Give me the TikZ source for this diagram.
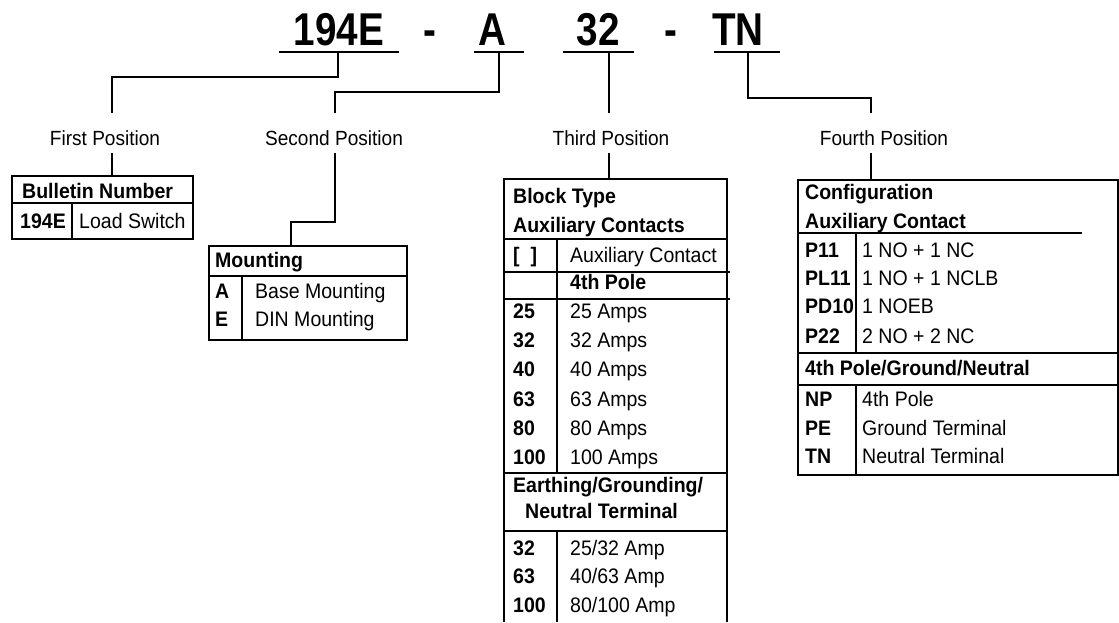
\documentclass[tikz,border=0pt]{standalone}
\usepackage{fontspec}
\setmainfont[FakeStretch=0.93]{Liberation Sans}
\newfontfamily\codefont[FakeStretch=0.84]{Liberation Sans}

\begin{document}
\begin{tikzpicture}[x=1pt,y=-1pt,
  code/.style={font=\codefont\bfseries\fontsize{46}{50}\selectfont,anchor=base,inner sep=0},
  uline/.style={line width=2.6pt},
  wire/.style={line width=2pt},
  poslabel/.style={font=\fontsize{20.5}{24}\selectfont,anchor=base,inner sep=0,
              text height=32pt,text depth=8pt},
  tbl/.style={draw,line width=2pt,inner sep=0,anchor=north west},
  rule/.style={line width=2pt},
  txt/.style={font=\fontsize{21}{24}\selectfont,anchor=base west,inner sep=0},
  hd/.style={txt,font=\fontsize{21}{24}\selectfont\bfseries}
]
\useasboundingbox (0,0) rectangle (1119,622);

\node[code] (t1) at (339,45) {194E};
\node[code] (d1) at (430,45) {-};
\node[code] (t2) at (492,45) {A};
\node[code] (t3) at (598,45) {32};
\node[code] (d2) at (671,45) {-};
\node[code] (t4) at (738,45) {TN};
\draw[uline] (279,52) -- (399,52) (474,52) -- (524,52) (563,52) -- (634,52) (714,52) -- (780,52);

\coordinate (s1) at (338,52);
\coordinate (s2) at (499,52);
\coordinate (s3) at (609,52);
\coordinate (s4) at (748,52);
\coordinate (k1) at (112,77);
\coordinate (k2) at (335,92);
\coordinate (k4) at (871,98);
\coordinate (k5) at (291,222);

\node[poslabel] (p1) at (105,145) {First Position};
\node[poslabel] (p2) at (334,145) {Second Position};
\node[poslabel] (p3) at (611,145) {Third Position};
\node[poslabel] (p4) at (884,145) {Fourth Position};

% first position
\node[tbl,minimum width=181pt,minimum height=63pt] (box1) at (11,175) {};
\draw[rule] (11,203) -- (192,203) (72,203) -- (72,238);
\node[hd] (b1h) at (22,198) {Bulletin Number};
\node[hd] (b1c) at (20,228) {194E};
\node[txt] (b1t) at (79,228) {Load Switch};

% second position
\node[tbl,minimum width=198pt,minimum height=94pt] (box2) at (208,245) {};
\draw[rule] (208,276) -- (406,276) (242,276) -- (242,339);
\node[hd] (b2h) at (215,267) {Mounting};
\node[hd] (b2a) at (215,298) {A};
\node[txt] (b2at) at (255,298) {Base Mounting};
\node[hd] (b2e) at (215,326) {E};
\node[txt] (b2et) at (255,326) {DIN Mounting};

% third position
\node[inner sep=0,anchor=north west,minimum width=223pt,minimum height=443pt] (box3) at (504,179) {};
\draw[rule] (box3.south west) -- (box3.north west) -- (box3.north east) -- (box3.south east);
\draw[rule] (504,239) -- (727,239) (504,272) -- (730,272) (504,299) -- (730,299)
  (504,473) -- (727,473) (504,531) -- (727,531) (557,239) -- (557,473) (557,531) -- (557,622);
\node[hd] (b3h1) at (513,203) {Block Type};
\node[hd] (b3h2) at (513,232) {Auxiliary Contacts};
\node[hd] (b3x) at (513,262) {[\hspace{11pt}]};
\node[txt] (b3xt) at (570,262) {Auxiliary Contact};
\node[hd] (b3p) at (570,289) {4th Pole};
\foreach \n/\y in {25/318,32/347,40/376,63/406,80/435,100/464}{
  \node[hd] (a\n) at (513,\y) {\n};
  \node[txt] (at\n) at (570,\y) {\n{} Amps};
}
\node[hd] (b3e1) at (513,492) {Earthing/Grounding/};
\node[hd] (b3e2) at (525,518) {Neutral Terminal};
\foreach \n/\r/\y in {32/25/555,63/40/583,100/80/612}{
  \node[hd] (e\n) at (513,\y) {\n};
  \node[txt] (et\n) at (570,\y) {\r/\n{} Amp};
}

% fourth position
\node[tbl,minimum width=320pt,minimum height=295pt] (box4) at (797,179) {};
\draw[rule] (797,233) -- (1082,233) (797,353) -- (1117,353) (797,385) -- (1117,385)
  (856,233) -- (856,353) (856,385) -- (856,474);
\node[hd] (b4h1) at (805,199) {Configuration};
\node[hd] (b4h2) at (805,228) {Auxiliary Contact};
\foreach \c/\t/\y in {P11/1 NO + 1 NC/257,PL11/1 NO + 1 NCLB/285,PD10/1 NOEB/313,P22/2 NO + 2 NC/343}{
  \node[hd] (c\c) at (805,\y) {\c};
  \node[txt] (ct\c) at (862,\y) {\t};
}
\node[hd] (b4g) at (805,375) {4th Pole/Ground/Neutral};
\foreach \c/\t/\y in {NP/4th Pole/406,PE/Ground Terminal/435,TN/Neutral Terminal/463}{
  \node[hd] (g\c) at (805,\y) {\c};
  \node[txt] (gt\c) at (862,\y) {\t};
}

\draw[wire] (s1) |- (k1) -- (k1 |- p1.north);
\draw[wire] (s2) |- (k2) -- (k2 |- p2.north);
\draw[wire] (s3) -- (s3 |- p3.north);
\draw[wire] (s4) |- (k4) -- (k4 |- p4.north);
\draw[wire] (k1 |- p1.south) -- (k1 |- box1.north);
\draw[wire] (k2 |- p2.south) |- (k5) -- (k5 |- box2.north);
\draw[wire] (s3 |- p3.south) -- (s3 |- box3.north);
\draw[wire] (k4 |- p4.south) -- (k4 |- box4.north);
\end{tikzpicture}
\end{document}
